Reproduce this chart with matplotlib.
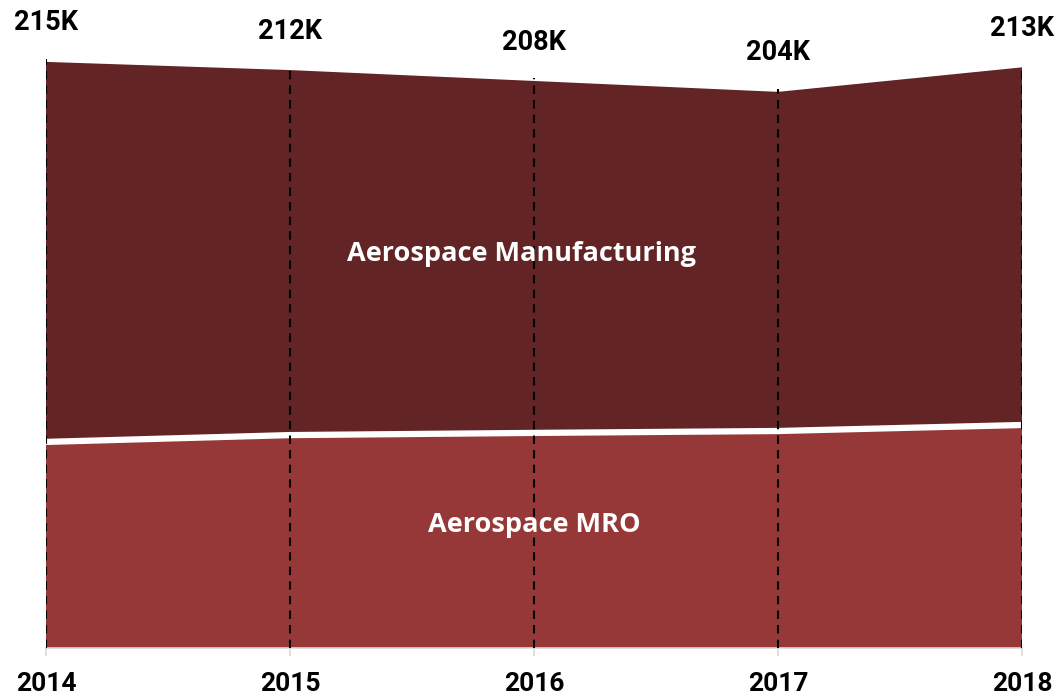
import matplotlib
matplotlib.use('Agg')
import matplotlib.pyplot as plt

# Aerospace employment (thousands)
years = [2014, 2015, 2016, 2017, 2018]
mro = [75.6, 78.1, 78.9, 79.6, 81.8]
totals = [215, 212, 208, 204, 213]
total_labels = ['215K', '212K', '208K', '204K', '213K']
manufacturing = [t - m for t, m in zip(totals, mro)]

DARK = '#632425'
LIGHT = '#963838'

fig = plt.figure(figsize=(10.59, 7.0), dpi=100)
ax = fig.add_axes([46 / 1059, 52 / 700, (1022 - 46) / 1059, 648 / 700])

ax.stackplot(years, mro, manufacturing, colors=[LIGHT, DARK], linewidth=0)
ax.plot(years, mro, color='white', linewidth=4.5, solid_capstyle='butt')

# dashed year guides running just above each total
for x, t in zip(years, totals):
    ax.plot([x, x], [0, t + 1], color='black', linewidth=1.5,
            linestyle=(0, (4, 3)), zorder=3)

for x, t, lab in zip(years, totals, total_labels):
    ax.annotate(lab, (x, t), xytext=(0, 28), textcoords='offset points',
                ha='center', va='center', fontsize=19.5, fontweight='bold',
                family='Roboto', color='black', annotation_clip=False)

ax.text(2015.95, 144.6, 'Aerospace Manufacturing', ha='center', va='center',
        color='white', fontsize=19.5, fontweight='bold', family='Open Sans')
ax.text(2016.0, 45, 'Aerospace MRO', ha='center', va='center',
        color='white', fontsize=19.5, fontweight='bold', family='Open Sans')

ax.set_xlim(2014, 2018)
ax.set_ylim(0, 237.7)
ax.set_xticks(years)
ax.set_xticklabels([str(y) for y in years], fontsize=19, fontweight='bold',
                   family='Roboto')
ax.set_yticks([])
for side in ['top', 'right', 'left']:
    ax.spines[side].set_visible(False)
ax.spines['bottom'].set_color('#d9d9d9')
ax.spines['bottom'].set_linewidth(1.2)
ax.tick_params(axis='x', length=6, color='#d9d9d9', width=1.2, pad=11)
ax.set_facecolor('white')

fig.savefig('out.png', dpi=100)
